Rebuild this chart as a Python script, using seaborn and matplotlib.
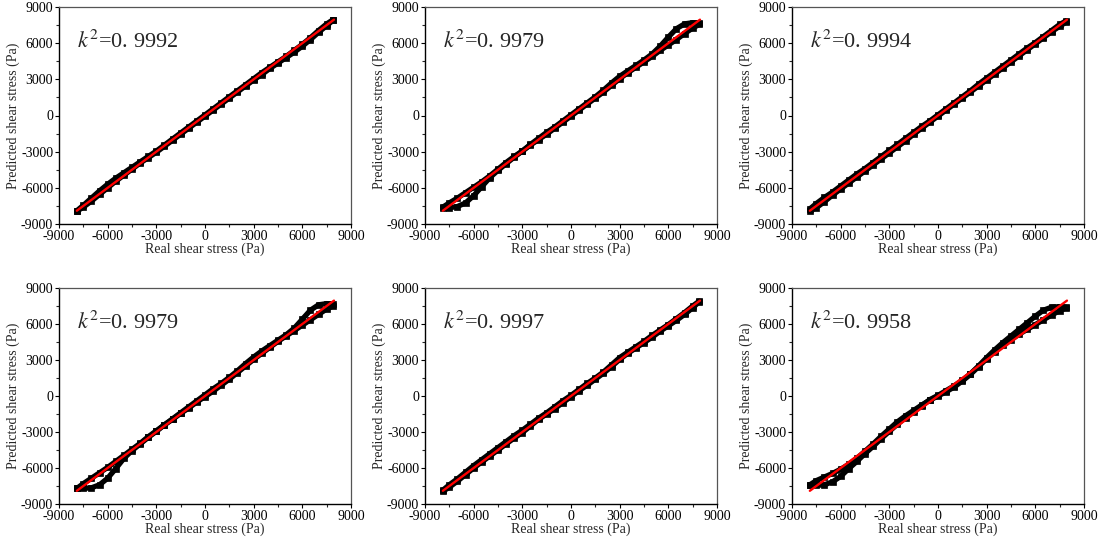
import numpy as np
import pandas as pd
import matplotlib
matplotlib.use("Agg")
import matplotlib.pyplot as plt
from matplotlib.ticker import MultipleLocator
import seaborn as sns

# ---------------- data ----------------
real_x = [-7900, -7500, -7000, -6500, -6000, -5500, -5000, -4500, -4000, -3500,
          -3000, -2500, -2000, -1500, -1000, -500, 0, 500, 1000, 1500, 2000,
          2500, 3000, 3500, 4000, 4500, 5000, 5500, 6000, 6500, 7000, 7500, 7900]

r2_labels = ["0. 9992", "0. 9979", "0. 9994", "0. 9979", "0. 9997", "0. 9958"]

# panel 1
p1_load = [-7900, -7450, -6850, -6250, -5700, -5200, -4750, -4300, -3850, -3400,
           -2950, -2450, -1950, -1450, -950, -450, 50, 550, 1050, 1550, 2050,
           2550, 3050, 3550, 4000, 4450, 4900, 5400, 5900, 6450, 7050, 7600, 7950]
p1_unload = [-7950, -7600, -7100, -6550, -6000, -5450, -4950, -4450, -3950, -3500,
             -3050, -2550, -2050, -1550, -1050, -550, -50, 450, 950, 1450, 1950,
             2450, 2950, 3400, 3900, 4350, 4800, 5250, 5750, 6300, 6900, 7450, 7900]
# panel 2
p2_load = [-7600, -7250, -6850, -6400, -5950, -5500, -5000, -4450, -3900, -3400,
           -2950, -2450, -2000, -1550, -1050, -550, -50, 450, 950, 1450, 1950,
           2500, 3050, 3550, 4000, 4450, 4900, 5400, 5850, 6300, 6800, 7250, 7550]
p2_unload = [-7650, -7650, -7550, -7250, -6650, -5900, -5150, -4550, -4000, -3450,
             -2950, -2400, -1900, -1400, -950, -450, 50, 550, 1050, 1550, 2100,
             2700, 3250, 3700, 4150, 4600, 5100, 5750, 6500, 7200, 7600, 7700, 7650]
# panel 3
p3_load = [-7750, -7300, -6800, -6350, -5850, -5350, -4850, -4400, -3900, -3400,
           -2900, -2400, -1900, -1400, -900, -450, 50, 550, 1050, 1550, 2050,
           2600, 3100, 3600, 4100, 4600, 5100, 5600, 6050, 6550, 7050, 7550, 7850]
p3_unload = [-7900, -7650, -7150, -6600, -6100, -5600, -5100, -4600, -4100, -3600,
             -3100, -2600, -2100, -1550, -1050, -550, -50, 450, 950, 1450, 1950,
             2450, 2950, 3450, 3950, 4450, 4950, 5450, 5950, 6450, 6950, 7400, 7750]
# panel 4
p4_load = [-7700, -7300, -6850, -6400, -5950, -5450, -4950, -4450, -3950, -3400,
           -2900, -2400, -1950, -1450, -1000, -500, -50, 400, 900, 1400, 1950,
           2500, 3050, 3550, 4050, 4550, 5000, 5450, 5900, 6350, 6800, 7250, 7500]
p4_unload = [-7700, -7700, -7650, -7400, -6850, -6050, -5200, -4550, -4000, -3450,
             -2950, -2400, -1900, -1400, -900, -400, 100, 600, 1050, 1550, 2100,
             2700, 3250, 3750, 4200, 4650, 5100, 5650, 6400, 7150, 7600, 7700, 7650]
# panel 5
p5_load = [-7850, -7400, -6900, -6350, -5800, -5300, -4800, -4300, -3800, -3300,
           -2850, -2350, -1850, -1400, -900, -400, 50, 550, 1050, 1500, 2000,
           2600, 3200, 3650, 4100, 4550, 5050, 5500, 5950, 6450, 6950, 7500, 7900]
p5_unload = [-7950, -7600, -7100, -6550, -6000, -5500, -5000, -4500, -4000, -3500,
             -3050, -2500, -1950, -1500, -1050, -550, -50, 450, 900, 1400, 1900,
             2450, 3050, 3550, 4000, 4450, 4900, 5400, 5850, 6300, 6800, 7350, 7850]
# panel 6
p6_load = [-7400, -7050, -6750, -6450, -6100, -5700, -5200, -4600, -4000, -3350,
           -2750, -2150, -1650, -1200, -750, -350, 0, 350, 750, 1250, 1800,
           2450, 3100, 3700, 4250, 4700, 5150, 5550, 5950, 6350, 6750, 7100, 7350]
p6_unload = [-7400, -7450, -7400, -7150, -6700, -6050, -5450, -4800, -4200, -3550,
             -2950, -2350, -1800, -1300, -800, -300, 50, 450, 850, 1300, 1850,
             2500, 3200, 3850, 4450, 5000, 5550, 6100, 6650, 7150, 7400, 7450, 7400]

fit_x = [-7900, 7950]
fit_y = [-7900, 7950]

panels = [(p1_load, p1_unload), (p2_load, p2_unload), (p3_load, p3_unload),
          (p4_load, p4_unload), (p5_load, p5_unload), (p6_load, p6_unload)]

ticks = [-9000, -6000, -3000, 0, 3000, 6000, 9000]

# ---------------- style ----------------
sns.set_style("ticks")
plt.rcParams["font.family"] = ["Liberation Serif", "DejaVu Serif"]
plt.rcParams["mathtext.fontset"] = "stix"
plt.rcParams["axes.unicode_minus"] = False

fig = plt.figure(figsize=(11.05, 5.47), dpi=100)

lefts = [59, 425, 792]
tops = [7, 288]
bottoms = [224, 504]
W, H = 1105, 547
aw = 292

for i, (load, unload) in enumerate(panels):
    r, c = divmod(i, 3)
    ax = fig.add_axes([lefts[c] / W, (H - bottoms[r]) / H, aw / W,
                       (bottoms[r] - tops[r]) / H])
    for branch in (load, unload):
        df = pd.DataFrame({"x": real_x, "y": branch})
        sns.lineplot(data=df, x="x", y="y", sort=False, estimator=None, ax=ax,
                     color="black", lw=3.8, marker="s", markersize=4.5,
                     markeredgecolor="black", markeredgewidth=0.5, zorder=2)
    sns.lineplot(x=fit_x, y=fit_y, ax=ax, color="red", lw=1.7,
                 estimator=None, sort=False, zorder=5)
    ax.set_xlim(-9000, 9000)
    ax.set_ylim(-9000, 9000)
    ax.set_xticks(ticks)
    ax.set_yticks(ticks)
    ax.xaxis.set_minor_locator(MultipleLocator(1500))
    ax.yaxis.set_minor_locator(MultipleLocator(1500))
    ax.tick_params(which="major", direction="out", length=3.2, width=0.8,
                   labelsize=10, pad=1.0, colors="black")
    ax.tick_params(which="minor", direction="out", length=2.2, width=0.8)
    ax.set_xlabel("Real shear stress (Pa)", fontsize=10, labelpad=0)
    ax.set_ylabel("Predicted shear stress (Pa)", fontsize=10, labelpad=1)
    for s in ("left", "bottom"):
        ax.spines[s].set_color("black")
        ax.spines[s].set_linewidth(1.0)
    for s in ("top", "right"):
        ax.spines[s].set_visible(True)
        ax.spines[s].set_color("#555555")
        ax.spines[s].set_linewidth(0.9)
    ax.text(0.06, 0.84, r"$k^{2}$=" + r2_labels[i], transform=ax.transAxes,
            fontsize=16, va="center", ha="left")

fig.savefig("out.png", dpi=100)
